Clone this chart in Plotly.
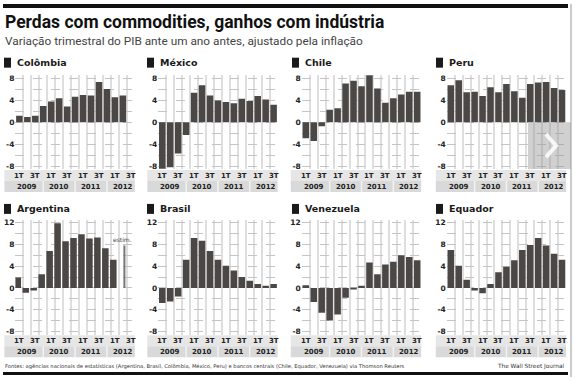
import plotly.graph_objects as go

# ---------------- data ----------------
quarters = ["1T 2009", "2T 2009", "3T 2009", "4T 2009",
            "1T 2010", "2T 2010", "3T 2010", "4T 2010",
            "1T 2011", "2T 2011", "3T 2011", "4T 2011",
            "1T 2012", "2T 2012", "3T 2012"]
quarter_labels = ["1T", "", "3T", "", "1T", "", "3T", "", "1T", "", "3T", "", "1T", "", "3T"]
years = ["2009", "2010", "2011", "2012"]
year_label_pos = [1, 5, 9, 13]
year_sep_pos = [3, 7, 11]

countries = ["Colômbia", "México", "Chile", "Peru",
             "Argentina", "Brasil", "Venezuela", "Equador"]

colombia = [1.2, 1.0, 1.2, 3.0, 3.8, 4.4, 2.9, 4.7, 5.0, 4.9, 7.4, 6.1, 4.6, 4.9, None]
mexico = [-8.5, -8.2, -5.7, -2.3, 5.4, 6.8, 4.9, 4.0, 3.7, 3.5, 4.3, 3.9, 4.8, 4.2, 3.2]
chile = [-2.9, -3.4, -0.7, 2.3, 2.6, 7.1, 7.6, 6.6, 9.8, 6.2, 3.6, 4.4, 5.1, 5.6, 5.6]
peru = [6.8, 7.7, 5.5, 5.6, 4.8, 6.4, 5.5, 7.0, 5.7, 4.5, 7.0, 7.3, 7.4, 6.3, 5.9]
argentina = [1.9, -0.9, -0.5, 2.5, 6.8, 11.9, 8.6, 9.2, 9.9, 9.1, 9.3, 7.3, 5.2, None, None]
argentina_estimate = [None] * 13 + [7.8, None]
argentina_note = "estim."
brasil = [-2.8, -2.5, -1.6, 5.2, 9.2, 8.7, 6.8, 5.2, 4.1, 3.2, 2.0, 1.3, 0.7, 0.4, 0.7]
venezuela = [0.5, -2.6, -4.6, -6.0, -4.9, -1.8, -0.3, 0.4, 4.7, 2.5, 4.3, 4.8, 6.0, 5.7, 5.1]
equador = [7.0, 4.1, 1.5, -0.5, -1.0, 0.7, 2.9, 3.9, 5.1, 7.0, 7.9, 9.2, 7.8, 6.3, 5.2]

series = [colombia, mexico, chile, peru, argentina, brasil, venezuela, equador]

title = "Perdas com commodities, ganhos com indústria"
subtitle = "Variação trimestral do PIB ante um ano antes, ajustado pela inflação"
source = ("Fontes: agências nacionais de estatísticas (Argentina, Brasil, Colômbia, México, Peru) "
          "e bancos centrais (Chile, Equador, Venezuela) via Thomson Reuters")
credit = "The Wall Street Journal"

# ---------------- layout helpers ----------------
W, H = 575, 382
def px(x): return x / W
def py(y): return 1 - y / H

BAR = "#4b4745"
col_x = [(15.4, 134.8), (158.3, 277.6), (301.8, 421.2), (446.8, 566.0)]
row_y = [(74.7, 169.3), (219.7, 335.3)]
row_range = [(-8.6, 8.6), (-8.6, 12.6)]
row_ticks = [list(range(-8, 9, 2)), list(range(-8, 13, 2))]
row_title_y = [62, 209]
row_band = [(170, 181, 192), (336, 347, 358)]
title_x = [4, 147, 292, 436]

idx = list(range(len(quarters)))

fig = go.Figure()
layout = dict(width=W, height=H, margin=dict(l=0, r=0, t=0, b=0),
              paper_bgcolor="white", plot_bgcolor="white", showlegend=False,
              bargap=0.2)
shapes = []
annotations = []

for i, (name, vals) in enumerate(zip(countries, series)):
    r, c = divmod(i, 4)
    n = i + 1
    xk = "xaxis" if n == 1 else f"xaxis{n}"
    yk = "yaxis" if n == 1 else f"yaxis{n}"
    x0, x1 = col_x[c]
    yt, yb = row_y[r]
    layout[xk] = dict(domain=[px(x0), px(x1)], range=[-0.5, 14.5], anchor=f"y{n}",
                      tickvals=[k + 0.5 for k in range(-1, 15)], showticklabels=False,
                      showgrid=True, gridcolor="#dedede", gridwidth=1.6,
                      zeroline=False, showline=False, ticks="", fixedrange=True)
    tv = row_ticks[r]
    layout[yk] = dict(domain=[py(yb), py(yt)], range=list(row_range[r]), anchor=f"x{n}",
                      tickvals=tv, ticktext=[str(v) if v % 4 == 0 else "" for v in tv],
                      showgrid=True, griddash="dash", gridcolor="#c4c4c4", gridwidth=1,
                      zeroline=False, showline=False, ticks="",
                      tickfont=dict(family="DejaVu Sans", size=7.5, color="#222",
                                    weight="bold"),
                      fixedrange=True)
    fig.add_trace(go.Bar(x=idx, y=vals, xaxis=f"x{n}", yaxis=f"y{n}",
                         marker=dict(color=BAR, line=dict(width=0)), width=0.82,
                         hoverinfo="skip"))
    if name == "Argentina":
        fig.add_trace(go.Bar(x=idx, y=argentina_estimate, xaxis=f"x{n}", yaxis=f"y{n}",
                             marker=dict(color="#777", line=dict(width=0)), width=0.12,
                             hoverinfo="skip"))
        annotations.append(dict(x=13, y=argentina_estimate[13], xref=f"x{n}", yref=f"y{n}",
                                text=argentina_note, showarrow=False, yanchor="bottom",
                                yshift=1, font=dict(family="DejaVu Sans", size=6, color="#444")))

    # panel title
    ty = row_title_y[r]
    tx = title_x[c]
    shapes.append(dict(type="rect", xref="paper", yref="paper",
                       x0=px(tx), x1=px(tx + 7), y0=py(ty + 5), y1=py(ty - 5),
                       fillcolor="#1a1a1a", line=dict(width=0)))
    annotations.append(dict(x=px(tx + 11), y=py(ty), xref="paper", yref="paper",
                            text=name, showarrow=False, xanchor="left", yanchor="middle",
                            font=dict(family="DejaVu Sans", size=9.5, color="#1a1a1a",
                                      weight="bold")))

    # axis band
    b0, bm, b1 = row_band[r]
    shapes.append(dict(type="rect", xref="paper", yref="paper",
                       x0=px(x0 - 11), x1=px(x1), y0=py(bm), y1=py(b0),
                       fillcolor="#e6e6e6", line=dict(width=0), layer="below"))
    shapes.append(dict(type="rect", xref="paper", yref="paper",
                       x0=px(x0 - 11), x1=px(x1), y0=py(b1), y1=py(bm),
                       fillcolor="#d9d9d9", line=dict(width=0), layer="below"))
    for s in year_sep_pos:
        shapes.append(dict(type="line", xref=f"x{n}", yref="paper",
                           x0=s, x1=s, y0=py(b1), y1=py(bm),
                           line=dict(color="#f2f2f2", width=1.5)))
    for k, q in enumerate(quarter_labels):
        if q:
            annotations.append(dict(x=k, y=py((b0 + bm) / 2), xref=f"x{n}", yref="paper",
                                    text=q, showarrow=False, yanchor="middle",
                                    font=dict(family="DejaVu Sans", size=7, color="#222",
                                              weight="bold")))
    for yl, yp in zip(years, year_label_pos):
        annotations.append(dict(x=yp, y=py((bm + b1) / 2), xref=f"x{n}", yref="paper",
                                text=yl, showarrow=False, yanchor="middle",
                                font=dict(family="DejaVu Sans", size=7, color="#222",
                                          weight="bold")))

# frame lines
shapes.append(dict(type="rect", xref="paper", yref="paper", x0=px(3), x1=px(568),
                   y0=py(7), y1=py(3), fillcolor="#111", line=dict(width=0)))
shapes.append(dict(type="rect", xref="paper", yref="paper", x0=px(3), x1=px(568),
                   y0=py(376), y1=py(373), fillcolor="#111", line=dict(width=0)))
shapes.append(dict(type="line", xref="paper", yref="paper", x0=px(571), x1=px(571),
                   y0=py(378), y1=py(3), line=dict(color="#999", width=1)))

# slideshow overlay on Peru panel
shapes.append(dict(type="rect", xref="paper", yref="paper", x0=px(528), x1=px(571),
                   y0=py(169), y1=py(122), fillcolor="rgba(150,150,150,0.45)",
                   line=dict(width=0)))
shapes.append(dict(type="path", xref="paper", yref="paper",
                   path=f"M {px(546)} {py(134)} L {px(556)} {py(145.5)} L {px(546)} {py(157)}",
                   line=dict(color="rgba(255,255,255,0.85)", width=4)))

# titles and footer
annotations.append(dict(x=px(3), y=py(21), xref="paper", yref="paper", text=f"<b>{title}</b>",
                        showarrow=False, xanchor="left", yanchor="middle",
                        font=dict(family="Roboto", size=17.5, color="#111")))
annotations.append(dict(x=px(3), y=py(40), xref="paper", yref="paper", text=subtitle,
                        showarrow=False, xanchor="left", yanchor="middle",
                        font=dict(family="Roboto", size=11.8, color="#444")))
annotations.append(dict(x=px(3), y=py(367), xref="paper", yref="paper", text=source,
                        showarrow=False, xanchor="left", yanchor="middle",
                        font=dict(family="DejaVu Sans", size=5.2, color="#333")))
annotations.append(dict(x=px(566), y=py(367), xref="paper", yref="paper", text=credit,
                        showarrow=False, xanchor="right", yanchor="middle",
                        font=dict(family="DejaVu Sans", size=5.8, color="#333")))

layout["shapes"] = shapes
layout["annotations"] = annotations
fig.update_layout(**layout)
fig.write_html("out.html", config={"displayModeBar": False},
               post_script="document.body.style.margin='0';document.body.style.overflow='hidden';")
